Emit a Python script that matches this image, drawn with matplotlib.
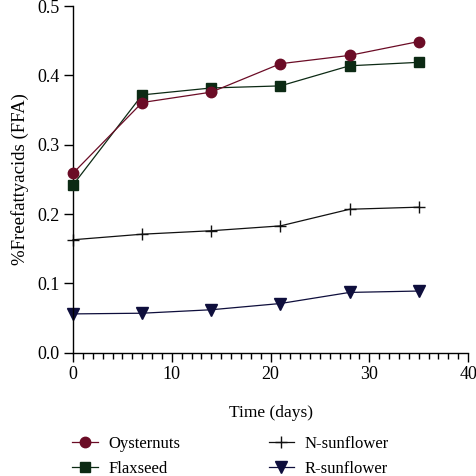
import matplotlib

matplotlib.use("Agg")
import matplotlib.pyplot as plt
from matplotlib.ticker import MultipleLocator, FormatStrFormatter

plt.rcParams["font.family"] = ["Liberation Serif", "DejaVu Serif"]

days = [0, 7, 14, 21, 28, 35]
oysternuts = [0.259, 0.361, 0.376, 0.417, 0.429, 0.449]
flaxseed = [0.242, 0.372, 0.382, 0.385, 0.414, 0.419]
n_sunflower = [0.163, 0.171, 0.176, 0.183, 0.207, 0.210]
r_sunflower = [0.056, 0.057, 0.062, 0.071, 0.087, 0.089]

fig = plt.figure(figsize=(4.76, 4.76), dpi=100)
ax = fig.add_axes([0.1534, 0.259, 0.83, 0.728])

ax.plot(days, oysternuts, color="#6b0c26", marker="o", ms=7.5, lw=0.9,
        label="Oysternuts", clip_on=False, zorder=4)
ax.plot(days, flaxseed, color="#0c2a14", marker="s", ms=7, lw=0.9,
        label="Flaxseed", clip_on=False, zorder=3)
ax.plot(days, n_sunflower, color="#111111", marker="+", ms=8, mew=1.0, lw=0.9,
        label="N-sunflower", clip_on=False)
ax.plot(days, r_sunflower, color="#0e0e3c", marker="v", ms=8, lw=0.9,
        label="R-sunflower", clip_on=False)

ax.set_xlim(0, 40)
ax.set_ylim(0, 0.5)
ax.xaxis.set_major_locator(MultipleLocator(10))
ax.xaxis.set_minor_locator(MultipleLocator(1))
ax.yaxis.set_major_locator(MultipleLocator(0.1))
ax.yaxis.set_major_formatter(FormatStrFormatter("%.1f"))
for s in ("top", "right"):
    ax.spines[s].set_visible(False)
for s in ("left", "bottom"):
    ax.spines[s].set_linewidth(1.0)
ax.tick_params(which="major", direction="out", length=6.5, width=1.0, labelsize=13, pad=3)
ax.tick_params(which="minor", direction="out", length=4, width=1.0)
ax.set_xlabel("Time (days)", fontsize=12.5, labelpad=16)
ax.set_ylabel("%Freefattyacids (FFA)", fontsize=13.5, labelpad=6)

h, l = ax.get_legend_handles_labels()
fig.legend(h, l, ncol=2, loc="upper left", bbox_to_anchor=(0.138, 0.098),
           frameon=False, fontsize=12, handlelength=1.55, columnspacing=5.3,
           labelspacing=0.55, handletextpad=0.6, borderaxespad=0)

fig.savefig("out.png", dpi=100)
